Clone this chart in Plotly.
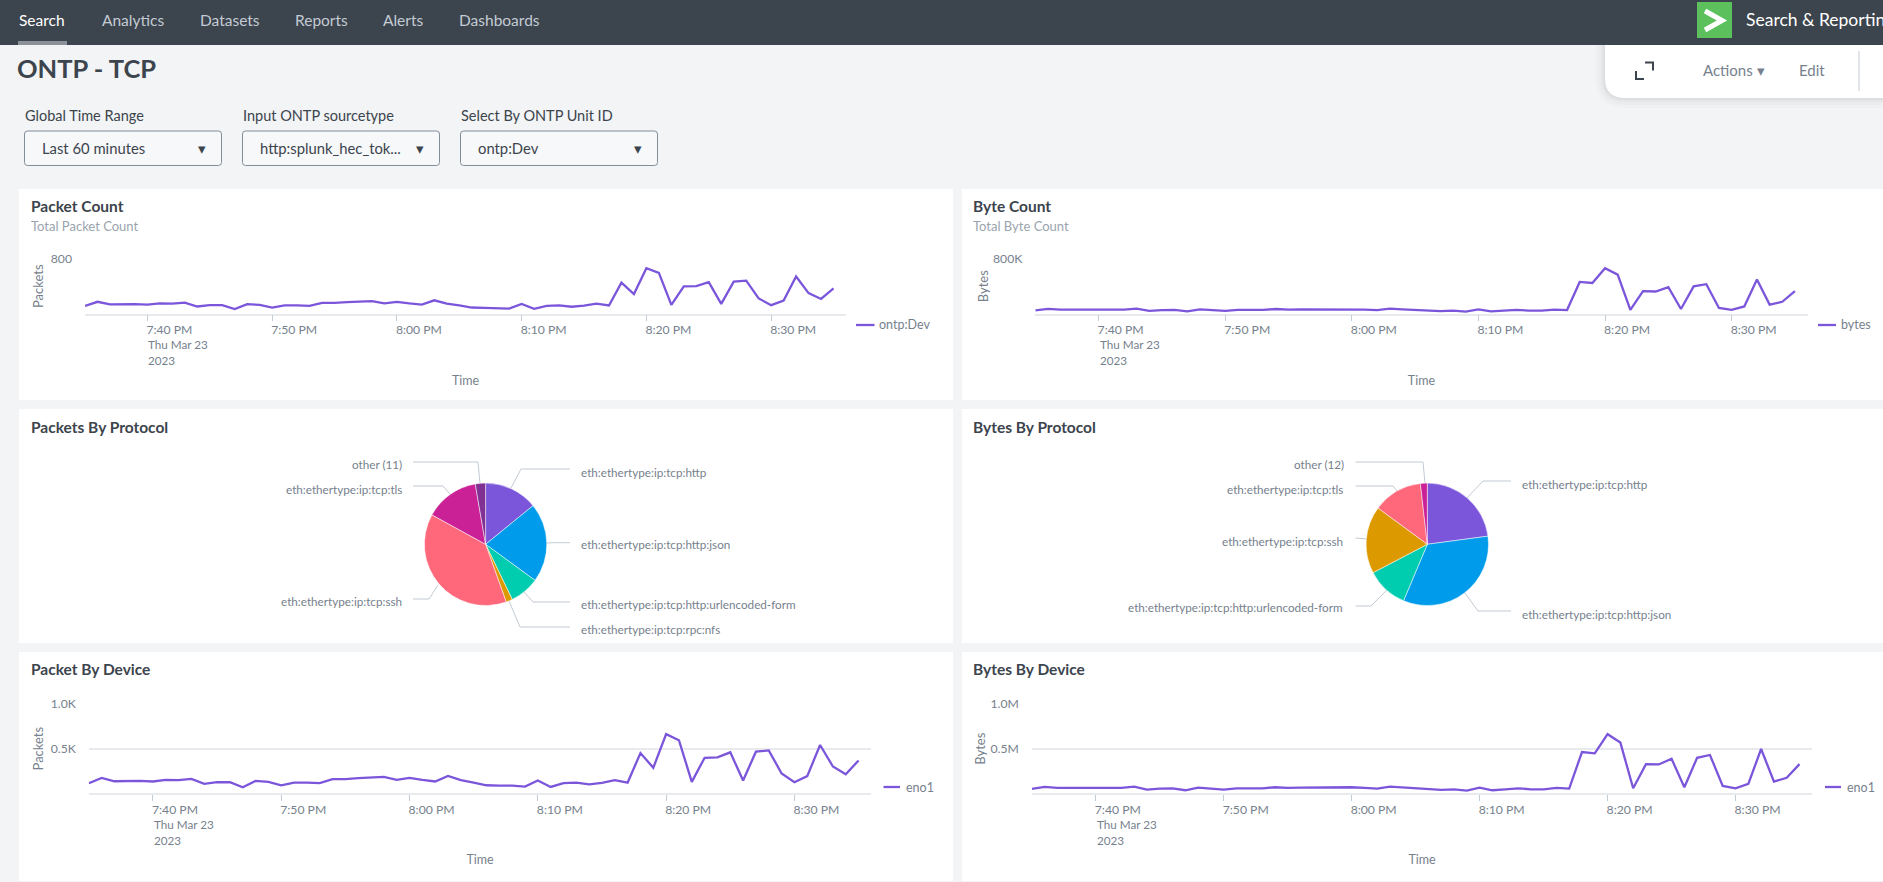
import pandas as pd
import plotly.graph_objects as go

W = 1883
H = 882

times = pd.date_range("2023-03-23 19:35", "2023-03-23 20:35", freq="1min")

packets = [113, 173, 135, 139, 139, 132, 150, 147, 162, 105, 124, 124, 68, 139, 128, 90,
           120, 120, 113, 158, 158, 169, 173, 184, 150, 173, 150, 132, 195, 147, 120, 90,
           86, 86, 75, 143, 71, 113, 120, 101, 116, 147, 120, 451, 286, 662, 594, 128,
           398, 402, 459, 143, 466, 481, 222, 124, 192, 541, 300, 214, 368]
kbytes = [49, 71, 60, 60, 64, 56, 60, 60, 75, 41, 53, 56, 34, 64, 53, 41,
          56, 56, 56, 68, 60, 64, 64, 71, 64, 68, 60, 53, 75, 64, 53, 41,
          38, 45, 30, 64, 34, 45, 56, 45, 45, 60, 53, 462, 447, 662, 568, 56,
          327, 323, 387, 68, 398, 429, 83, 56, 105, 496, 132, 173, 327]

tick_times = ["2023-03-23 19:40", "2023-03-23 19:50", "2023-03-23 20:00",
              "2023-03-23 20:10", "2023-03-23 20:20", "2023-03-23 20:30"]
tick_labels = ["7:40 PM", "7:50 PM", "8:00 PM", "8:10 PM", "8:20 PM", "8:30 PM"]

packet_protocols = ["eth:ethertype:ip:tcp:http", "eth:ethertype:ip:tcp:http:json",
                    "eth:ethertype:ip:tcp:http:urlencoded-form", "eth:ethertype:ip:tcp:rpc:nfs",
                    "eth:ethertype:ip:tcp:ssh", "eth:ethertype:ip:tcp:tls", "other (11)"]
packet_shares = [14.1, 20.9, 7.8, 1.7, 38.4, 14.3, 2.7]
packet_colors = ["#7b56db", "#009ceb", "#00cdaf", "#dd9900", "#ff677b", "#cb2196", "#813193"]

byte_protocols = ["eth:ethertype:ip:tcp:http", "eth:ethertype:ip:tcp:http:json",
                  "eth:ethertype:ip:tcp:http:urlencoded-form", "eth:ethertype:ip:tcp:ssh",
                  "eth:ethertype:ip:tcp:tls", "other (12)"]
byte_shares = [22.9, 33.5, 11.0, 17.8, 13.1, 1.8]
byte_colors = ["#7b56db", "#009ceb", "#00cdaf", "#dd9900", "#ff677b", "#cb2196"]

FONT = "Lato"
DARK = "#3c444d"
GREY = "#76818d"
LEADER = "#c3cbd4"
GRID = "#e8eaed"
PURPLE = "#7b56db"


def px(x):
    return x / W


def py(y):
    return 1 - y / H


shapes = []
annotations = []


def rect(x0, y0, x1, y1, color):
    shapes.append(dict(type="rect", xref="paper", yref="paper", x0=px(x0), x1=px(x1),
                       y0=py(y0), y1=py(y1), fillcolor=color, line_width=0, layer="below"))


def path(points, color, width=1.0, layer="above"):
    d = "M" + " L".join(f"{px(x):.5f},{py(y):.5f}" for x, y in points)
    shapes.append(dict(type="path", xref="paper", yref="paper", path=d,
                       line=dict(color=color, width=width), layer=layer))


def round_box(x0, y0, x1, y1, r, fill, border):
    d = (f"M{px(x0 + r):.5f},{py(y0):.5f} L{px(x1 - r):.5f},{py(y0):.5f} "
         f"Q{px(x1):.5f},{py(y0):.5f} {px(x1):.5f},{py(y0 + r):.5f} "
         f"L{px(x1):.5f},{py(y1 - r):.5f} Q{px(x1):.5f},{py(y1):.5f} {px(x1 - r):.5f},{py(y1):.5f} "
         f"L{px(x0 + r):.5f},{py(y1):.5f} Q{px(x0):.5f},{py(y1):.5f} {px(x0):.5f},{py(y1 - r):.5f} "
         f"L{px(x0):.5f},{py(y0 + r):.5f} Q{px(x0):.5f},{py(y0):.5f} {px(x0 + r):.5f},{py(y0):.5f} Z")
    shapes.append(dict(type="path", xref="paper", yref="paper", path=d, fillcolor=fill,
                       line=dict(color=border, width=1), layer="below"))


def note(x, y, text, size=12.2, color=GREY, anchor="left", weight=None):
    annotations.append(dict(xref="paper", yref="paper", x=px(x), y=py(y), text=text, showarrow=False,
                            xanchor=anchor, yanchor="middle", borderpad=0, borderwidth=0,
                            font=dict(family=FONT, size=size, color=color, weight=weight)))


fig = go.Figure()
axes = {}


def line_panel(n, values, name, x0, x1, top, base, ymax, yticks, ytext, ytitle, title_gap, time_gap):
    x_key = "xaxis" if n == 1 else f"xaxis{n}"
    y_key = "yaxis" if n == 1 else f"yaxis{n}"
    suffix = "" if n == 1 else str(n)
    fig.add_trace(go.Scatter(x=times, y=values, mode="lines", name=name, showlegend=False,
                             xaxis="x" + suffix, yaxis="y" + suffix,
                             line=dict(color=PURPLE, width=2.3)))
    axes[x_key] = dict(domain=[px(x0), px(x1)], anchor="y" + suffix, type="date",
                       range=["2023-03-23 19:35", "2023-03-23 20:36"],
                       tickmode="array", tickvals=tick_times, ticktext=tick_labels,
                       ticks="outside", ticklen=6, tickcolor=LEADER, tickwidth=1,
                       ticklabelshift=22, ticklabelstandoff=-2,
                       tickfont=dict(family=FONT, size=12.2, color=GREY),
                       showgrid=False, showline=True, linecolor=GRID, linewidth=1.5, zeroline=False,
                       title=dict(text="Time", standoff=time_gap, font=dict(family=FONT, size=12.5, color=GREY)))
    axes[y_key] = dict(domain=[py(base), py(top)], anchor="x" + suffix, range=[0, ymax],
                       tickmode="array", tickvals=yticks, ticktext=ytext,
                       ticks="", ticklabelstandoff=12,
                       tickfont=dict(family=FONT, size=12.2, color=GREY),
                       showgrid=True, gridcolor=GRID, gridwidth=1.5, showline=False, zeroline=False,
                       title=dict(text=ytitle, standoff=title_gap, font=dict(family=FONT, size=13, color=GREY)))
    annotations.append(dict(xref="x" + suffix, yref="paper", x=tick_times[0], y=py(base + 30.5), text="Thu Mar 23",
                            showarrow=False, xanchor="left", yanchor="middle", borderpad=0,
                            font=dict(family=FONT, size=11.7, color=GREY)))
    annotations.append(dict(xref="x" + suffix, yref="paper", x=tick_times[0], y=py(base + 46.5), text="2023",
                            showarrow=False, xanchor="left", yanchor="middle", borderpad=0,
                            font=dict(family=FONT, size=11.7, color=GREY)))


def pie_panel(labels, values, colors, cx, cy, r):
    fig.add_trace(go.Pie(labels=labels, values=values, sort=False, direction="clockwise", rotation=0,
                         textinfo="none", showlegend=False, hole=0,
                         domain=dict(x=[px(cx - r), px(cx + r)], y=[py(cy + r), py(cy - r)]),
                         marker=dict(colors=colors, line=dict(color="#ffffff", width=0.5))))


# page furniture
for grow, alpha in [(10, 0.012), (7, 0.018), (4, 0.025), (2, 0.03)]:
    d = (f"M{px(1605 - grow):.5f},{py(45):.5f} L{px(1605 - grow):.5f},{py(78):.5f} "
         f"Q{px(1605 - grow):.5f},{py(98 + grow):.5f} {px(1625):.5f},{py(98 + grow):.5f} "
         f"L{px(1883):.5f},{py(98 + grow):.5f} L{px(1883):.5f},{py(45):.5f} Z")
    shapes.append(dict(type="path", xref="paper", yref="paper", path=d,
                       fillcolor=f"rgba(0,0,0,{alpha})", line_width=0, layer="below"))
d = (f"M{px(1605):.5f},{py(45):.5f} L{px(1605):.5f},{py(78):.5f} "
     f"Q{px(1605):.5f},{py(98):.5f} {px(1625):.5f},{py(98):.5f} "
     f"L{px(1883):.5f},{py(98):.5f} L{px(1883):.5f},{py(45):.5f} Z")
shapes.append(dict(type="path", xref="paper", yref="paper", path=d, fillcolor="#ffffff", line_width=0, layer="below"))

rect(0, 0, W, 45, DARK)
rect(18, 41, 67, 45, "#8b9198")
rect(1697, 2, 1732, 38, "#5cc05c")
path([(1705, 11), (1722, 20.5), (1705, 30)], "#ffffff", 5)

nav = [("Search", 19, "#ffffff"), ("Analytics", 102, "#c3cbd4"), ("Datasets", 199.5, "#c3cbd4"),
       ("Reports", 294.5, "#c3cbd4"), ("Alerts", 383, "#c3cbd4"), ("Dashboards", 458.5, "#c3cbd4")]
for label, x, color in nav:
    note(x, 20, label, 15.5, color)
note(1746, 19.5, "Search &amp; Reporting", 17.5, "#ffffff")

note(17, 68, "ONTP - TCP", 25.5, DARK, weight=700)

path([(1636, 71), (1636, 79), (1644, 79)], DARK, 2)
path([(1645, 62.5), (1653, 62.5), (1653, 70.5)], DARK, 2)
note(1703, 70, "Actions ▾", 15, GREY)
note(1799, 70, "Edit", 15, GREY)
path([(1859, 51), (1859, 91)], LEADER, 1)

inputs = [(24.5, "Global Time Range", "Last 60 minutes", 201.5),
          (242.5, "Input ONTP sourcetype", "http:splunk_hec_tok...", 420),
          (460.5, "Select By ONTP Unit ID", "ontp:Dev", 637.5)]
for x, label, value, caret in inputs:
    note(x, 115, label, 14.5, DARK)
    round_box(x, 131, x + 197, 165.5, 3, "#f7f8fa", "#818d99")
    note(x + 17, 148, value, 14.8, DARK)
    note(caret, 148, "▾", 15, DARK, anchor="center")

panels = [(19, 189, 953, 400, 31, "Packet Count", "Total Packet Count", 206.3),
          (962, 189, 1883, 400, 973, "Byte Count", "Total Byte Count", 206.3),
          (19, 409, 953, 643, 31, "Packets By Protocol", None, 427.3),
          (962, 409, 1883, 643, 973, "Bytes By Protocol", None, 427.3),
          (19, 652, 953, 881, 31, "Packet By Device", None, 669),
          (962, 652, 1883, 881, 973, "Bytes By Device", None, 669)]
for x0, y0, x1, y1, tx, title, sub, ty in panels:
    rect(x0, y0, x1, y1, "#ffffff")
    note(tx, ty, title, 15.5, DARK, weight=700)
    if sub:
        note(tx, y0 + 37, sub, 13, "#9aa4ae")

# line panels
line_panel(1, packets, "ontp:Dev", 85, 846, 258.7, 313.7, 800, [800], ["800"], "Packets", 4, 40)
line_panel(2, kbytes, "bytes", 1035.3, 1807.6, 258.7, 313.7, 800, [800], ["800K"], "Bytes", 1, 40)
line_panel(3, packets, "eno1", 88.8, 871.4, 704, 793.3, 1000, [500, 1000], ["0.5K", "1.0K"], "Packets", 4, 40)
line_panel(4, kbytes, "eno1", 1031.8, 1812.3, 704, 793.3, 1000, [500, 1000], ["0.5M", "1.0M"], "Bytes", 1, 40)

legends = [(856, 874.5, 879, 325, "ontp:Dev"), (1818, 1836, 1841, 325, "bytes"),
           (883.5, 900, 906, 787, "eno1"), (1825, 1841, 1847, 787, "eno1")]
for x0, x1, tx, y, label in legends:
    path([(x0, y), (x1, y)], PURPLE, 2.3)
    note(tx, y, label, 12.5)

# pies
pie_panel(packet_protocols, packet_shares, packet_colors, 485.6, 544.3, 61.2)
pie_panel(byte_protocols, byte_shares, byte_colors, 1427.3, 544.3, 61.2)

packet_leaders = [[(511, 488), (521, 469), (570, 469)], [(547, 543), (554, 542.7), (570, 542.7)],
                  [(524, 592), (533, 602), (570, 602)], [(509, 601), (520, 627), (570, 627)],
                  [(438, 585), (429, 599), (413, 599)], [(450, 494), (443, 486), (413, 486)],
                  [(480, 483), (478, 462), (413, 462)]]
packet_spots = [(580.5, 471.7, "left"), (580.5, 544.3, "left"), (580.5, 604.3, "left"), (580.5, 628.7, "left"),
                (401.7, 600.7, "right"), (401.7, 488.7, "right"), (402, 464.3, "right")]
byte_leaders = [[(1467, 498), (1483, 481), (1511, 481)], [(1465, 593), (1478, 611), (1511, 611)],
                [(1387, 590), (1371, 606), (1355.5, 606)], [(1367, 539), (1355.5, 538)],
                [(1397, 491), (1393, 486), (1355.5, 486)], [(1425, 483), (1423, 462), (1355.5, 462)]]
byte_spots = [(1521.5, 483.7, "left"), (1521.5, 613.7, "left"), (1343, 607.3, "right"), (1343, 540.7, "right"),
              (1343, 488.7, "right"), (1343.5, 464.3, "right")]
for leaders, spots, labels in [(packet_leaders, packet_spots, packet_protocols),
                               (byte_leaders, byte_spots, byte_protocols)]:
    for pts, (x, y, anchor), label in zip(leaders, spots, labels):
        path(pts, LEADER, 1)
        note(x, y, label, 11.7, anchor=anchor)

fig.update_layout(width=W, height=H, autosize=False,
                  margin=dict(l=0, r=0, t=0, b=0, pad=0, autoexpand=False),
                  paper_bgcolor="#f2f4f5", plot_bgcolor="rgba(0,0,0,0)",
                  font=dict(family=FONT), shapes=shapes, annotations=annotations, hovermode=False,
                  **axes)
fig.write_html("out.html", config={"displayModeBar": False},
               post_script="document.body.style.margin='0';document.body.style.overflow='hidden';")
